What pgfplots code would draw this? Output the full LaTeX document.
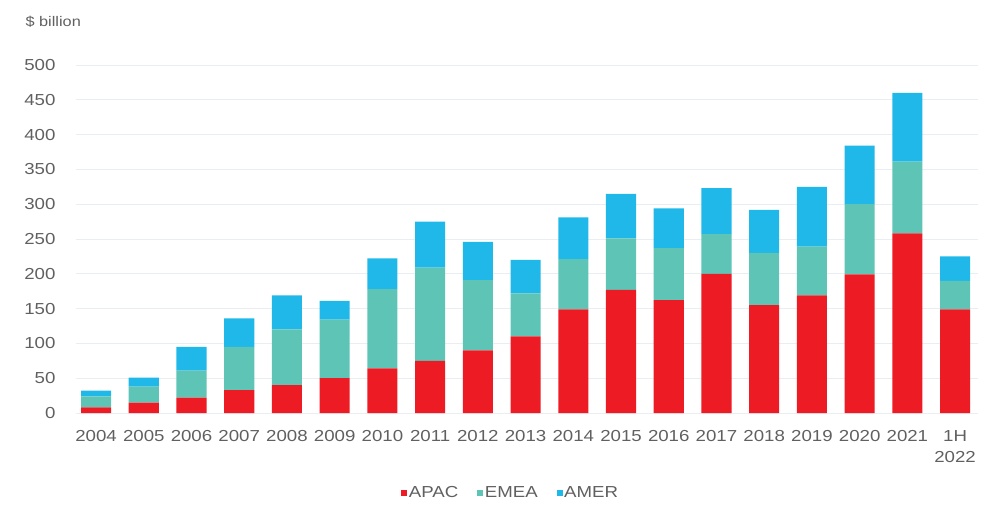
\documentclass[border=0pt]{standalone}
\usepackage{pgfplots}
\pgfplotsset{compat=1.18}
\usepackage{pgfplotstable}
\usepackage{fontspec}
\setmainfont[FakeStretch=1.17]{Liberation Sans}
\definecolor{apac}{HTML}{ED1C24}
\definecolor{emea}{HTML}{5EC4B6}
\definecolor{amer}{HTML}{20B8E8}
\definecolor{tick}{HTML}{606060}
\definecolor{gridc}{HTML}{E9EEF2}
\pgfplotstableread{
x APAC EMEA AMER
0 8 16 8
1 15 23 13
2 22 39 34
3 33 62 41
4 40 80 49
5 50 84 27
6 64 114 44
7 75 134 66
8 90 101 55
9 110 62 48
10 149 72 60
11 177 74 64
12 162 75 57
13 200 57 66
14 155 75 62
15 169 70 86
16 199 101 84
17 258 103 99
18 149 41 35
}\data
\begin{document}
\begin{tikzpicture}
\path[use as bounding box] (0,0) rectangle (988bp,506bp);
\begin{axis}[
  at={(76bp,93bp)}, anchor=south west,
  scale only axis, width=902bp, height=348bp,
  ybar stacked, bar width=0.63,
  xmin=-0.42, xmax=18.48, ymin=0, ymax=500,
  xtick=data,
  xticklabels={2004,2005,2006,2007,2008,2009,2010,2011,2012,2013,2014,2015,2016,2017,2018,2019,2020,2021,{1H\\2022}},
  ytick={0,50,...,500},
  ymajorgrids, grid style={gridc, line width=0.8pt},
  axis line style={draw=none}, major tick length=0pt,
  tick label style={font=\fontsize{16}{21}\selectfont, text=tick},
  xticklabel style={align=center, yshift=-14bp},
  yticklabel style={xshift=-17bp},
  /pgf/number format/assume math mode=true,
  legend style={at={(0.482,-0.23)}, anchor=center, draw=none, legend columns=-1,
    font=\fontsize{16}{18}\selectfont, text=tick,
    /tikz/every even column/.append style={column sep=17bp},
    /tikz/every odd column/.append style={column sep=-0.5bp}},
  legend image code/.code={\fill[#1] (0bp,-3bp) rectangle (6bp,3bp);},
  legend cell align=left,
]
\addplot[fill=apac, draw=none] table[x=x, y=APAC] {\data};
\addplot[fill=emea, draw=none] table[x=x, y=EMEA] {\data};
\addplot[fill=amer, draw=none] table[x=x, y=AMER] {\data};
\legend{APAC,EMEA,AMER}
\end{axis}
\node[anchor=west, text=tick, font=\fontsize{14}{16}\selectfont] at (22bp,484bp) {\$ billion};
\end{tikzpicture}
\end{document}
